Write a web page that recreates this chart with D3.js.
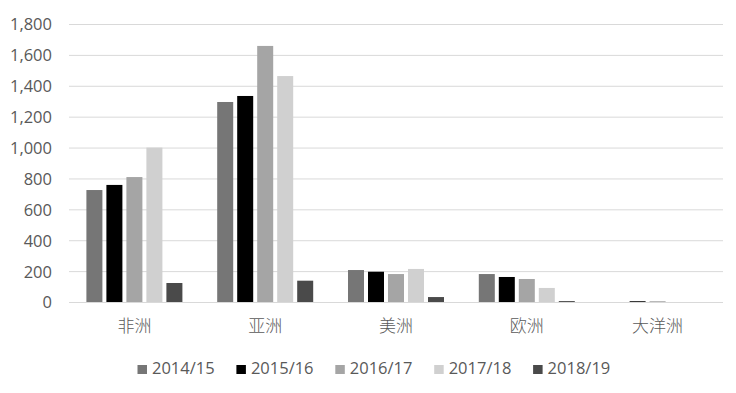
<!DOCTYPE html>
<html><head><meta charset="utf-8">
<script src="https://cdn.jsdelivr.net/npm/d3@7/dist/d3.min.js"></script>
<style>body{margin:0;background:#fff}svg{display:block}</style>
</head><body>
<svg id="c" width="736" height="393"></svg>
<script>
const categories = ["非洲", "亚洲", "美洲", "欧洲", "大洋洲"];
const seriesNames = ["2014/15", "2015/16", "2016/17", "2017/18", "2018/19"];
const v2014 = [725, 1295, 207, 181, 0];
const v2015 = [758, 1334, 196, 162, 5];
const v2016 = [809, 1658, 181, 149, 5];
const v2017 = [1000, 1463, 214, 91, 0];
const v2018 = [123, 138, 32, 6, 0];
const yTicks = [0, 200, 400, 600, 800, 1000, 1200, 1400, 1600, 1800];
const colors = ["#767676", "#000000", "#a5a5a5", "#d0d0d0", "#4a4a4a"];
const seriesValues = [v2014, v2015, v2016, v2017, v2018];

(function () {
const svg = d3.select("#c");
const pLeft = 69, pRight = 723, pTop = 24, pBottom = 302;
const x = d3.scaleBand().domain(categories).range([pLeft, pRight]).padding(0);
const xs = d3.scaleBand().domain(seriesNames).range([0, x.bandwidth()]).paddingInner(0.2).paddingOuter(0.87);
const y = d3.scaleLinear().domain([0, 1800]).range([pBottom, pTop]);

// gridlines
svg.append("g").selectAll("line").data(yTicks).join("line")
  .attr("x1", pLeft).attr("x2", pRight)
  .attr("y1", d => y(d) + 0.5).attr("y2", d => y(d) + 0.5)
  .attr("stroke", "#d9d9d9").attr("stroke-width", 1);

// y axis labels
const yAxis = d3.axisLeft(y).tickValues(yTicks).tickSize(0).tickPadding(0).tickFormat(d3.format(","));
const ga = svg.append("g").attr("transform", `translate(52,0)`).call(yAxis);
ga.select(".domain").remove();
ga.selectAll("text").attr("font-family", "'Open Sans', sans-serif").attr("font-size", 16.5)
  .attr("fill", "#595959").attr("dy", "0.36em");

// bars
seriesNames.forEach((s, i) => {
  svg.append("g").selectAll("rect").data(categories).join("rect")
    .attr("x", c => x(c) + xs(s))
    .attr("width", xs.bandwidth())
    .attr("y", (c, j) => y(seriesValues[i][j]))
    .attr("height", (c, j) => pBottom - y(seriesValues[i][j]))
    .attr("fill", colors[i]);
});

// x axis labels
const xAxis = d3.axisBottom(x).tickSize(0).tickPadding(0);
const gx = svg.append("g").attr("transform", `translate(0,${pBottom})`).call(xAxis);
gx.select(".domain").remove();
gx.selectAll("text").attr("font-family", "'Noto Sans CJK SC', sans-serif").attr("font-size", 17)
  .attr("font-weight", 300)
  .attr("fill", "#595959").attr("y", 0).attr("dy", "1.78em");

// legend
const lg = svg.append("g");
seriesNames.forEach((s, i) => {
  const lx = 137.5 + i * 98.9;
  lg.append("rect").attr("x", lx).attr("y", 365).attr("width", 9.5).attr("height", 9).attr("fill", colors[i]);
  lg.append("text").attr("x", lx + 14.5).attr("y", 374).text(s)
    .attr("font-family", "'Open Sans', sans-serif").attr("font-size", 16.5).attr("fill", "#595959");
});
})();
</script>
</body></html>
